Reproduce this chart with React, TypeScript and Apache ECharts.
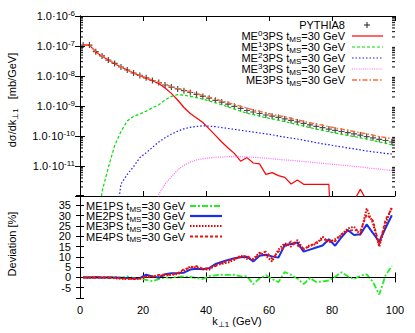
import React, { useEffect, useRef } from "react";
import * as echarts from "echarts";

// bin centres (GeV)
const kT = [1, 3, 5, 7, 9, 11, 13, 15, 17, 19, 21, 23, 25, 27, 29, 31, 33, 35, 37, 39, 41, 43, 45, 47, 49, 51, 53, 55, 57, 59, 61, 63, 65, 67, 69, 71, 73, 75, 77, 79, 81, 83, 85, 87, 89, 91, 93, 95, 97, 99];

// top panel: log10 of dσ/dk⊥1 [mb/GeV] (null = no entries)
const pythia8Log10 = [-6.97, -6.97, -7.19, -7.33, -7.47, -7.58, -7.70, -7.80, -7.90, -7.98, -8.06, -8.15, -8.22, -8.30, -8.37, -8.43, -8.49, -8.55, -8.61, -8.68, -8.74, -8.81, -8.87, -8.94, -9.01, -9.08, -9.15, -9.20, -9.25, -9.30, -9.34, -9.38, -9.43, -9.48, -9.53, -9.58, -9.63, -9.68, -9.72, -9.77, -9.81, -9.85, -9.89, -9.93, -9.97, -10.02, -10.06, -10.11, -10.15, -10.20];
const me0Log10 = [-6.97, -6.97, -7.20, -7.34, -7.47, -7.59, -7.70, -7.80, -7.90, -7.99, -8.07, -8.16, -8.25, -8.40, -8.58, -8.80, -9.05, -9.25, -9.40, -9.55, -9.76, -9.98, -10.20, -10.40, -10.58, -10.84, -10.72, -10.90, -10.93, -11.28, -11.22, -11.32, -11.38, -11.60, -11.47, -11.61, -11.61, -11.61, -11.61, -11.61, -16, -16, -16, -12.15, -11.78, -12.15, -16, -16, -16, -16];
const me1Log10 = [null, null, -14, -11.85, -11.05, -10.32, -9.85, -9.50, -9.34, -9.27, -9.17, -9.06, -8.96, -8.80, -8.68, -8.62, -8.64, -8.68, -8.72, -8.77, -8.83, -8.89, -8.96, -9.03, -9.10, -9.17, -9.24, -9.29, -9.34, -9.39, -9.43, -9.47, -9.52, -9.57, -9.62, -9.67, -9.72, -9.77, -9.81, -9.86, -9.90, -9.94, -9.98, -10.02, -10.06, -10.10, -10.15, -10.20, -10.24, -10.30];
const me2Log10 = [null, null, null, null, null, -13.2, -11.6, -11.28, -11.02, -10.72, -10.56, -10.38, -10.20, -10.06, -9.94, -9.84, -9.76, -9.71, -9.68, -9.66, -9.67, -9.69, -9.72, -9.75, -9.78, -9.81, -9.84, -9.87, -9.90, -9.93, -9.96, -10.00, -10.04, -10.07, -10.10, -10.14, -10.18, -10.22, -10.26, -10.29, -10.33, -10.36, -10.40, -10.43, -10.46, -10.50, -10.53, -10.55, -10.58, -10.60];
const me3Log10 = [null, null, null, null, null, null, null, null, null, null, null, -13.2, -11.95, -11.60, -11.36, -11.13, -10.98, -10.87, -10.80, -10.76, -10.73, -10.71, -10.70, -10.69, -10.69, -10.69, -10.70, -10.71, -10.72, -10.74, -10.76, -10.78, -10.80, -10.81, -10.83, -10.85, -10.87, -10.89, -10.91, -10.93, -10.95, -10.97, -10.99, -11.01, -11.03, -11.06, -11.08, -11.10, -11.13, -11.15];
const me3psLog10 = [-6.97, -6.97, -7.19, -7.33, -7.46, -7.58, -7.70, -7.80, -7.90, -7.98, -8.06, -8.14, -8.21, -8.28, -8.35, -8.41, -8.47, -8.53, -8.59, -8.65, -8.71, -8.77, -8.83, -8.89, -8.95, -9.01, -9.07, -9.13, -9.18, -9.23, -9.28, -9.32, -9.36, -9.41, -9.46, -9.51, -9.56, -9.60, -9.64, -9.69, -9.73, -9.77, -9.81, -9.85, -9.89, -9.93, -9.97, -10.02, -10.05, -10.09];

// bottom panel: deviation [%]
const devME1PS = [0, 0, 0.2, -0.2, 0, 0.3, -0.2, 0.5, -0.3, -0.6, -1.2, -1.8, -0.8, 0, -0.2, 0.3, 0.5, 0.2, -0.3, -0.8, 0.6, 1.0, 1.3, 1.2, 1.3, 0.5, 0.6, -3.3, -0.5, 1.0, -0.8, -2.3, 2.6, 1.2, -0.5, -3.3, -0.3, -2.2, -2.0, -1.5, 0.3, 2.5, 0.5, -0.8, 0.8, 1.5, -2.2, -8.3, 1.0, 5.5];
const devME2PS = [0, 0, 0.1, 0, -0.1, 0, -0.2, -0.3, -0.5, -0.3, 1.3, 0.5, -0.2, 1.5, 2.0, 2.1, 2.3, 3.8, 4.2, 4.0, 4.5, 6.5, 7.5, 8.5, 9.3, 9.8, 10.0, 7.7, 10.5, 11.0, 10.2, 9.6, 15.7, 16.2, 16.9, 12.5, 13.5, 14.5, 15.5, 18.5, 15.4, 19.5, 23.0, 20.6, 20.9, 25.7, 21.5, 17.3, 24.0, 30.2];
const devME3PS = [0, -0.2, 0.2, -0.3, 0.1, -0.4, -0.6, -0.8, -0.5, -0.7, 0.3, 0.5, 0.8, 1.0, 1.3, 1.6, 3.2, 5.3, 4.8, 4.0, 3.7, 6.1, 6.6, 7.2, 8.5, 10.6, 9.0, 9.0, 12.0, 10.5, 7.7, 13.5, 16.6, 15.0, 18.1, 13.5, 15.7, 16.2, 19.7, 16.9, 18.6, 20.5, 23.8, 24.6, 20.6, 33.4, 26.2, 14.9, 26.0, 34.2];
const devME4PS = [0, 0.1, -0.2, 0.2, -0.3, -0.2, -0.5, -0.6, -0.8, -0.5, 0.5, 0.2, 1.2, 1.5, 1.2, 2.0, 4.0, 4.6, 5.5, 4.2, 4.5, 5.5, 7.0, 8.0, 9.0, 10.0, 10.5, 8.5, 11.5, 12.5, 9.0, 12.5, 14.8, 17.5, 15.5, 14.0, 15.0, 17.0, 18.5, 18.0, 17.5, 21.0, 22.5, 23.0, 22.5, 30.5, 27.5, 15.5, 28.0, 33.5];

const FONT = '"Liberation Sans", Arial, Helvetica, sans-serif';

const C = {
  pythia: "#222222",
  me0: "#ff0000",
  me1: "#00e000",
  me2: "#1a1aff",
  me3: "#ff66ff",
  me3ps: "#ff6a33",
  b1: "#22ee22",
  b2: "#1530ee",
  b3: "#dd0000",
  b4: "#ee1111",
};

const DASH = {
  me1: [3, 2],
  me2: [1.5, 2],
  me3: [1, 1.2],
  me3ps: [5, 2, 1.5, 2],
  b1: [6, 2, 2, 2],
  b3: [1.5, 1.5],
  b4: [3, 2],
};

function logPairs(ys: (number | null)[]) {
  const out: number[][] = [];
  ys.forEach((v, i) => {
    if (v !== null) out.push([kT[i], Math.pow(10, v)]);
  });
  return out;
}
function linPairs(ys: number[]) {
  return ys.map((v, i) => [kT[i], v]);
}

const rich = {
  b: { fontSize: 11, fontFamily: FONT, lineHeight: 14, verticalAlign: "middle", color: "#000" },
  sup: { fontSize: 8, fontFamily: FONT, lineHeight: 8, verticalAlign: "top", color: "#000" },
  sub: { fontSize: 8, fontFamily: FONT, lineHeight: 8, verticalAlign: "bottom", color: "#000" },
  gap: { fontSize: 11, fontFamily: FONT, lineHeight: 14, verticalAlign: "middle", color: "#000", padding: [0, 0, 0, 9] },
};

// log minor tick positions (axis decoration)
const minorDecades = [-12, -11, -10, -9, -8, -7];
const minorMantissas = [2, 3, 4, 5, 6, 7, 8, 9];

export default function App() {
  const ref = useRef<HTMLDivElement>(null);
  useEffect(() => {
    if (!ref.current) return;
    const chart = echarts.init(ref.current, null, { renderer: "svg" });

    const axisLine = { show: true, lineStyle: { color: "#000", width: 1 } };
    const tick = (len: number) => ({ show: true, inside: true, length: len, lineStyle: { color: "#000", width: 1 } });

    const minorVals: number[][] = [];
    minorDecades.forEach((d) => minorMantissas.forEach((m) => minorVals.push([0, m * Math.pow(10, d)])));

    const topLegendRows = [
      { t: "{b|PYTHIA8}", y: 25, kind: "cross" },
      { t: "{b|ME}{sup|0}{b|3PS t}{sub|MS}{b|=30 GeV}", y: 36, color: C.me0, dash: null, w: 1.2 },
      { t: "{b|ME}{sup|1}{b|3PS t}{sub|MS}{b|=30 GeV}", y: 47, color: C.me1, dash: DASH.me1, w: 1.2 },
      { t: "{b|ME}{sup|2}{b|3PS t}{sub|MS}{b|=30 GeV}", y: 58, color: C.me2, dash: DASH.me2, w: 1.2 },
      { t: "{b|ME}{sup|3}{b|3PS t}{sub|MS}{b|=30 GeV}", y: 69, color: C.me3, dash: DASH.me3, w: 1.2 },
      { t: "{b|ME3PS t}{sub|MS}{b|=30 GeV}", y: 80, color: C.me3ps, dash: DASH.me3ps, w: 1.6 },
    ];
    const botLegendRows = [
      { t: "{b|ME1PS t}{sub|MS}{b|=30 GeV}", y: 206, color: C.b1, dash: DASH.b1, w: 2 },
      { t: "{b|ME2PS t}{sub|MS}{b|=30 GeV}", y: 216, color: C.b2, dash: null, w: 2.2 },
      { t: "{b|ME3PS t}{sub|MS}{b|=30 GeV}", y: 226, color: C.b3, dash: DASH.b3, w: 2 },
      { t: "{b|ME4PS t}{sub|MS}{b|=30 GeV}", y: 236.5, color: C.b4, dash: DASH.b4, w: 2 },
    ];

    const graphics: any[] = [];
    topLegendRows.forEach((r: any) => {
      graphics.push({
        type: "text", x: 345, y: r.y,
        style: { text: r.t, rich, align: "right", verticalAlign: "middle", fontFamily: FONT, fontSize: 11, fill: "#000" },
      });
      if (r.kind === "cross") {
        graphics.push({ type: "line", shape: { x1: 364, y1: r.y, x2: 370, y2: r.y }, style: { stroke: C.pythia, lineWidth: 1 } });
        graphics.push({ type: "line", shape: { x1: 367, y1: r.y - 3, x2: 367, y2: r.y + 3 }, style: { stroke: C.pythia, lineWidth: 1 } });
      } else {
        graphics.push({ type: "line", shape: { x1: 352, y1: r.y, x2: 383, y2: r.y }, style: { stroke: r.color, lineWidth: r.w, lineDash: r.dash || undefined } });
      }
    });
    botLegendRows.forEach((r: any) => {
      graphics.push({
        type: "text", x: 86, y: r.y,
        style: { text: r.t, rich, align: "left", verticalAlign: "middle", fontFamily: FONT, fontSize: 11, fill: "#000" },
      });
      graphics.push({ type: "line", shape: { x1: 190, y1: r.y, x2: 222, y2: r.y }, style: { stroke: r.color, lineWidth: r.w, lineDash: r.dash || undefined } });
    });
    // axis titles
    graphics.push({
      type: "text", x: 12, y: 100, rotation: Math.PI / 2,
      style: { text: "{b|dσ/dk}{sub|⊥1}{gap|[mb/GeV]}", rich, align: "center", verticalAlign: "middle", fill: "#000" },
    });
    graphics.push({
      type: "text", x: 12, y: 244, rotation: Math.PI / 2,
      style: { text: "{b|Deviation [%]}", rich, align: "center", verticalAlign: "middle", fill: "#000" },
    });
    graphics.push({
      type: "text", x: 237, y: 321,
      style: { text: "{b|k}{sub|⊥1}{b| (GeV)}", rich, align: "center", verticalAlign: "middle", fill: "#000" },
    });

    const option: any = {
      animation: false,
      backgroundColor: "#fff",
      textStyle: { fontFamily: FONT },
      grid: [
        { left: 80, top: 16, width: 315, height: 180, containLabel: false },
        { left: 80, top: 195, width: 315, height: 103, containLabel: false },
      ],
      xAxis: [
        { gridIndex: 0, type: "value", min: 0, max: 100, interval: 20, position: "bottom", axisLine, axisTick: tick(5), axisLabel: { show: false }, splitLine: { show: false } },
        { gridIndex: 0, type: "value", min: 0, max: 100, interval: 20, position: "top", axisLine, axisTick: tick(5), axisLabel: { show: false }, splitLine: { show: false } },
        {
          gridIndex: 1, type: "value", min: 0, max: 100, interval: 20, position: "bottom", axisLine, axisTick: tick(5),
          axisLabel: { show: true, color: "#000", fontSize: 11, fontFamily: FONT, margin: 6 }, splitLine: { show: false },
        },
        { gridIndex: 1, type: "value", min: 0, max: 100, interval: 20, position: "top", axisLine, axisTick: tick(5), axisLabel: { show: false }, splitLine: { show: false } },
      ],
      yAxis: [
        {
          gridIndex: 0, type: "log", logBase: 10, min: 1e-12, max: 1e-6, splitNumber: 6, position: "left", axisLine, axisTick: tick(5), splitLine: { show: false },
          axisLabel: {
            show: true, margin: 5, rich,
            formatter: (v: number) => {
              const e = Math.round(Math.log10(v));
              if (e <= -12) return "";
              return "{b|1.0·10}{sup|" + e + "}";
            },
          },
        },
        { gridIndex: 0, type: "log", logBase: 10, min: 1e-12, max: 1e-6, splitNumber: 6, position: "right", axisLine, axisTick: tick(5), axisLabel: { show: false }, splitLine: { show: false } },
        {
          gridIndex: 1, type: "value", min: -10, max: 40, interval: 5, position: "left", axisLine, axisTick: tick(4), splitLine: { show: false },
          axisLabel: {
            show: true, margin: 9, color: "#000", fontSize: 11, fontFamily: FONT,
            formatter: (v: number) => (v <= -10 || v >= 40 ? "" : String(v)),
          },
        },
        { gridIndex: 1, type: "value", min: -10, max: 40, interval: 5, position: "right", axisLine, axisTick: tick(4), axisLabel: { show: false }, splitLine: { show: false } },
      ],
      graphic: graphics,
      series: [
        {
          type: "custom", name: "minorTicks", xAxisIndex: 0, yAxisIndex: 0, silent: true, clip: false,
          data: minorVals,
          renderItem: (params: any, api: any) => {
            const v = api.value(1);
            const p = api.coord([0, v]);
            const q = api.coord([100, v]);
            return {
              type: "group",
              children: [
                { type: "line", shape: { x1: p[0], y1: p[1], x2: p[0] + 3, y2: p[1] }, style: { stroke: "#000", lineWidth: 1 } },
                { type: "line", shape: { x1: q[0] - 3, y1: q[1], x2: q[0], y2: q[1] }, style: { stroke: "#000", lineWidth: 1 } },
              ],
            };
          },
        },
        {
          type: "scatter", name: "PYTHIA8", xAxisIndex: 0, yAxisIndex: 0, data: logPairs(pythia8Log10),
          symbol: "path://M4,0H6V4H10V6H6V10H4V6H0V4H4Z", symbolSize: 6, itemStyle: { color: C.pythia }, z: 3,
        },
        { type: "line", name: "ME0", xAxisIndex: 0, yAxisIndex: 0, data: logPairs(me0Log10), symbol: "none", lineStyle: { color: C.me0, width: 1.2 }, z: 4 },
        { type: "line", name: "ME1", xAxisIndex: 0, yAxisIndex: 0, data: logPairs(me1Log10), symbol: "none", lineStyle: { color: C.me1, width: 1.2, type: DASH.me1 }, z: 4 },
        { type: "line", name: "ME2", xAxisIndex: 0, yAxisIndex: 0, data: logPairs(me2Log10), symbol: "none", lineStyle: { color: C.me2, width: 1.2, type: DASH.me2 }, z: 4 },
        { type: "line", name: "ME3", xAxisIndex: 0, yAxisIndex: 0, data: logPairs(me3Log10), symbol: "none", lineStyle: { color: C.me3, width: 1.2, type: DASH.me3 }, z: 4 },
        { type: "line", name: "ME3PS", xAxisIndex: 0, yAxisIndex: 0, data: logPairs(me3psLog10), symbol: "none", lineStyle: { color: C.me3ps, width: 1.4, type: DASH.me3ps }, z: 4 },
        {
          type: "line", name: "ME1PS", xAxisIndex: 2, yAxisIndex: 2, data: linPairs(devME1PS), symbol: "none", lineStyle: { color: C.b1, width: 1.8, type: DASH.b1 }, z: 4,
          markLine: {
            silent: true, symbol: ["none", "none"], label: { show: false },
            lineStyle: { color: "#000", width: 1, type: [4, 4] },
            data: [{ yAxis: 0 }],
          },
        },
        { type: "line", name: "ME2PS", xAxisIndex: 2, yAxisIndex: 2, data: linPairs(devME2PS), symbol: "none", lineStyle: { color: C.b2, width: 2 }, z: 4 },
        { type: "line", name: "ME3PS dev", xAxisIndex: 2, yAxisIndex: 2, data: linPairs(devME3PS), symbol: "none", lineStyle: { color: C.b3, width: 2, type: DASH.b3 }, z: 5 },
        { type: "line", name: "ME4PS", xAxisIndex: 2, yAxisIndex: 2, data: linPairs(devME4PS), symbol: "none", lineStyle: { color: C.b4, width: 1.8, type: DASH.b4 }, z: 5 },
      ],
    };
    chart.setOption(option);
    return () => chart.dispose();
  }, []);
  return <div ref={ref} style={{ position: "fixed", left: 0, top: 0, width: 415, height: 333, background: "#fff" }} />;
}
